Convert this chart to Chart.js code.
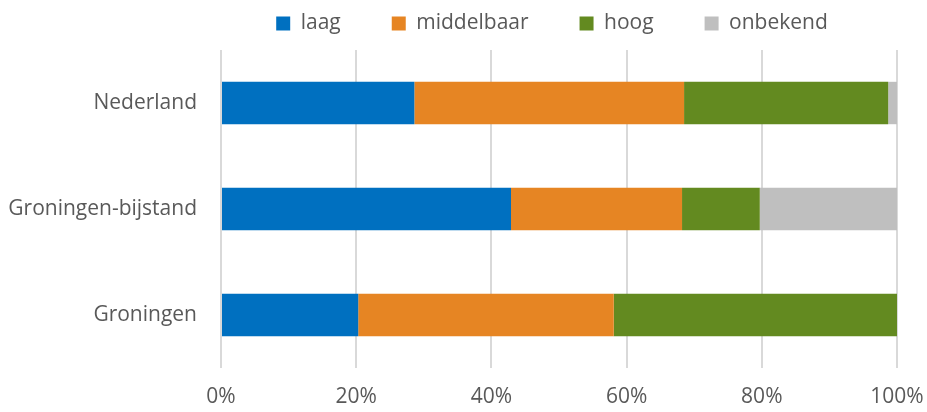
<!DOCTYPE html>
<html>
<head>
<title>Opleidingsniveau</title>
<script src="https://cdn.jsdelivr.net/npm/chart.js"></script>
<style>
  html, body { margin: 0; padding: 0; background: #fff; }
  #wrap { width: 927px; height: 412px; }
</style>
</head>
<body>
<div id="wrap"><canvas id="chart"></canvas></div>
<script>
// values in percent
const regions = ['Nederland', 'Groningen-bijstand', 'Groningen'];
const laag = [28.6, 42.9, 20.3];
const middelbaar = [39.9, 25.3, 37.8];
const hoog = [30.2, 11.5, 41.9];
const onbekend = [1.3, 20.3, 0];
const xTicks = [0, 20, 40, 60, 80, 100];

Chart.defaults.font.family = '"Open Sans", sans-serif';
Chart.defaults.font.size = 21;
Chart.defaults.color = '#595959';

// keep the legend compact on top and shift it a bit
const legendTweak = {
    id: 'legendTweak',
    afterInit(chart) {
        const fit = chart.legend.fit;
        chart.legend.fit = function () {
            fit.call(this);
            this.height = 50;
        };
    },
    afterLayout(chart) {
        chart.legend.top = -38;
        chart.legend.left -= 7;
        chart.legend.right -= 7;
    }
};

const ctx = document.getElementById('chart').getContext('2d');
const chart = new Chart(ctx, {
    type: 'bar',
    data: {
        labels: regions,
        datasets: [
            { label: 'laag', data: laag, backgroundColor: '#0070C0' },
            { label: 'middelbaar', data: middelbaar, backgroundColor: '#E68523' },
            { label: 'hoog', data: hoog, backgroundColor: '#638A20' },
            { label: 'onbekend', data: onbekend, backgroundColor: '#BFBFBF' }
        ]
    },
    options: {
        indexAxis: 'y',
        responsive: true,
        maintainAspectRatio: false,
        animation: false,
        datasets: { bar: { categoryPercentage: 1, barPercentage: 0.4 } },
        layout: { padding: 0 },
        plugins: {
            legend: {
                position: 'top',
                fullSize: false,
                labels: { boxWidth: 14, boxHeight: 14, padding: 51 }
            },
            tooltip: { enabled: false }
        },
        scales: {
            x: {
                stacked: true,
                min: 0,
                max: 100,
                afterBuildTicks: scale => { scale.ticks = xTicks.map(v => ({ value: v })); },
                afterFit: scale => {
                    scale.height = 44;
                    scale.paddingLeft = 0;
                    scale.paddingRight = 30;
                },
                ticks: { callback: v => v + '%', padding: 16 },
                grid: { color: '#D9D9D9', lineWidth: 2, drawTicks: false },
                border: { display: false }
            },
            y: {
                stacked: true,
                afterFit: scale => { scale.width = 221; },
                ticks: { padding: 24 },
                grid: { display: false, drawTicks: false },
                border: { display: false }
            }
        }
    },
    plugins: [legendTweak]
});
</script>
</body>
</html>
